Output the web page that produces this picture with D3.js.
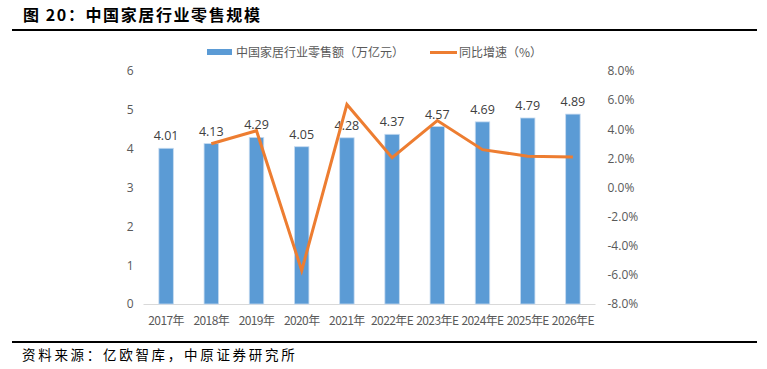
<!DOCTYPE html>
<html>
<head>
<meta charset="utf-8">
<script src="https://cdn.jsdelivr.net/npm/d3@7"></script>
<style>
  body { margin: 0; background: #fff; }
  svg { display: block; font-family: "Noto Sans CJK SC", "Open Sans", sans-serif; }
</style>
</head>
<body>
<svg id="chart" width="767" height="369"></svg>
<script>
var categories = ['2017年', '2018年', '2019年', '2020年', '2021年', '2022年E', '2023年E', '2024年E', '2025年E', '2026年E'];
var salesValues = [4.01, 4.13, 4.29, 4.05, 4.28, 4.37, 4.57, 4.69, 4.79, 4.89];
var growthValues = [null, 3.0, 3.9, -5.7, 5.7, 2.05, 4.6, 2.6, 2.15, 2.1];
var leftTicks = [0, 1, 2, 3, 4, 5, 6];
var rightTicks = [-8, -6, -4, -2, 0, 2, 4, 6, 8];

var svg = d3.select('#chart');
var plot = { left: 143.5, right: 595.5, top: 71, bottom: 304 };

// title + rules
svg.append('text')
  .attr('x', 23).attr('y', 21)
  .attr('font-size', 16).attr('font-weight', 'bold')
  .attr('letter-spacing', 1.6)
  .attr('fill', '#000')
  .text('图 20：中国家居行业零售规模');

svg.append('line')
  .attr('x1', 12).attr('x2', 757).attr('y1', 30).attr('y2', 30)
  .attr('stroke', '#000').attr('stroke-width', 2);
svg.append('line')
  .attr('x1', 12).attr('x2', 757).attr('y1', 342).attr('y2', 342)
  .attr('stroke', '#000').attr('stroke-width', 2);

svg.append('text')
  .attr('x', 22).attr('y', 360)
  .attr('font-size', 13.5).attr('letter-spacing', 2.7)
  .attr('fill', '#000')
  .text('资料来源：亿欧智库，中原证券研究所');

var x = d3.scaleBand()
  .domain(categories)
  .range([plot.left, plot.right])
  .paddingInner(0.68).paddingOuter(0.34);

var yL = d3.scaleLinear().domain([0, 6]).range([plot.bottom, plot.top]);
var yR = d3.scaleLinear().domain([-8, 8]).range([plot.bottom, plot.top]);

// left axis labels
svg.append('g')
  .attr('transform', 'translate(' + (plot.left - 10) + ',0)')
  .call(d3.axisLeft(yL).tickValues(leftTicks).tickSize(0).tickPadding(0).tickFormat(d3.format('d')))
  .call(function (g) { g.select('.domain').remove(); })
  .selectAll('text')
  .attr('font-size', 12).attr('fill', '#595959')
  .attr('font-family', '"Open Sans", sans-serif');

// right axis labels
svg.append('g')
  .attr('transform', 'translate(' + (plot.right + 12) + ',0)')
  .call(d3.axisRight(yR).tickValues(rightTicks).tickSize(0).tickPadding(0)
    .tickFormat(function (d) { return d.toFixed(1) + '%'; }))
  .call(function (g) { g.select('.domain').remove(); })
  .selectAll('text')
  .attr('font-size', 12).attr('fill', '#595959')
  .attr('font-family', '"Open Sans", sans-serif');

// baseline
svg.append('line')
  .attr('x1', plot.left).attr('x2', plot.right)
  .attr('y1', plot.bottom + 0.5).attr('y2', plot.bottom + 0.5)
  .attr('stroke', '#d9d9d9').attr('stroke-width', 1);

// category labels
svg.append('g')
  .attr('transform', 'translate(0,' + (plot.bottom + 10) + ')')
  .call(d3.axisBottom(x).tickSize(0).tickPadding(0))
  .call(function (g) { g.select('.domain').remove(); })
  .selectAll('text')
  .attr('dy', '0.95em')
  .attr('font-size', 12).attr('fill', '#595959')
  .attr('letter-spacing', -0.6)
  .attr('font-family', '"Noto Sans CJK SC", sans-serif');

// bars
svg.append('g').selectAll('rect')
  .data(salesValues)
  .enter().append('rect')
  .attr('x', function (d, i) { return x(categories[i]); })
  .attr('y', function (d) { return yL(d); })
  .attr('width', x.bandwidth())
  .attr('height', function (d) { return yL(0) - yL(d); })
  .attr('fill', '#5b9bd5')
  .attr('stroke', '#c5daf0').attr('stroke-width', 0.8);

// bar labels
svg.append('g').selectAll('text')
  .data(salesValues)
  .enter().append('text')
  .attr('x', function (d, i) { return x(categories[i]) + x.bandwidth() / 2; })
  .attr('y', function (d) { return yL(d) - 8; })
  .attr('text-anchor', 'middle')
  .attr('font-size', 12.5).attr('fill', '#404040')
  .attr('font-family', '"Open Sans", sans-serif')
  .text(function (d) { return d.toFixed(2); });

// growth line
var line = d3.line()
  .defined(function (d) { return d != null; })
  .x(function (d, i) { return x(categories[i]) + x.bandwidth() / 2; })
  .y(function (d) { return yR(d); });

svg.append('path')
  .datum(growthValues)
  .attr('d', line)
  .attr('fill', 'none')
  .attr('stroke', '#ed7d31')
  .attr('stroke-width', 3)
  .attr('stroke-linejoin', 'miter');

// legend
var legend = svg.append('g').attr('font-size', 12).attr('fill', '#595959');
legend.append('rect')
  .attr('x', 207).attr('y', 49).attr('width', 25).attr('height', 6)
  .attr('fill', '#5b9bd5');
legend.append('text')
  .attr('x', 236).attr('y', 56.5)
  .attr('fill', '#595959')
  .text('中国家居行业零售额（万亿元）');
legend.append('line')
  .attr('x1', 430).attr('x2', 457).attr('y1', 52.5).attr('y2', 52.5)
  .attr('stroke', '#ed7d31').attr('stroke-width', 3);
legend.append('text')
  .attr('x', 459).attr('y', 56.5)
  .attr('fill', '#595959')
  .text('同比增速（%）');
</script>
</body>
</html>
